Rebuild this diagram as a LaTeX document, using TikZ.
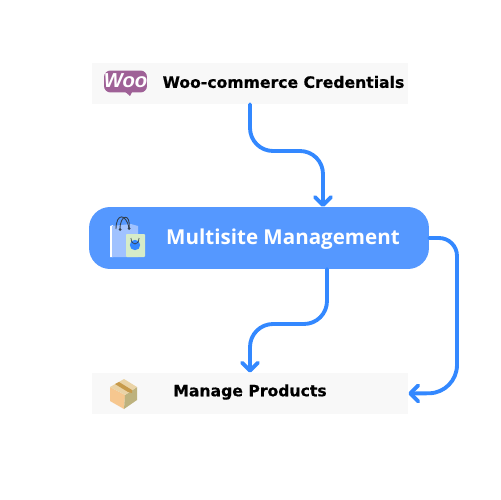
\documentclass[tikz,border=0pt]{standalone}
\usepackage{fontspec}
\setmainfont{Liberation Sans}
\newfontfamily\titlefont[FakeBold=0.6]{DejaVu Sans Bold}
\newfontfamily\sitefont{Open Sans}
\usetikzlibrary{arrows.meta}
\definecolor{mainblue}{HTML}{5598FF}
\definecolor{linkblue}{HTML}{3388FF}
\definecolor{lightbox}{HTML}{F8F8F8}
\definecolor{woopurple}{HTML}{9F6197}
\definecolor{bagblue}{HTML}{A0C2FF}
\definecolor{baggreen}{HTML}{D6ECC8}
\definecolor{bagdark}{HTML}{33404F}
\definecolor{boxleft}{HTML}{F6C78F}
\definecolor{boxright}{HTML}{BDB27E}
\definecolor{boxtop}{HTML}{EAD3A6}
\definecolor{boxtape}{HTML}{C79A4B}
\begin{document}
\begin{tikzpicture}[x=0.02cm, y=-0.02cm,
		>={Straight Barb[length=1.6mm, width=3.2mm, round]},
		greybox/.style={fill=lightbox, minimum width=6.32cm, minimum height=0.82cm, inner sep=0pt},
		link/.style={->, linkblue, line width=2.2pt, line cap=round},
		boxtext/.style={font=\titlefont\fontsize{8.9}{11}\selectfont, inner sep=0pt}]
	\useasboundingbox (0, 0) rectangle (500, 500);
	\node [greybox] (woobox) at (250, 83.5) {};
	\node [greybox] (productbox) at (250, 393.5) {};
	\node [fill=mainblue, rounded corners=0.42cm, minimum width=6.8cm, minimum height=1.24cm, inner sep=0pt] (sitebox) at (259, 238) {};
	\node [boxtext] (wootext) at (283.5, 82) {Woo-commerce Credentials};
	\node [boxtext] (producttext) at (250, 392) {Manage Products};
	\node [white, inner sep=0pt, font=\sitefont\bfseries\fontsize{11.7}{14}\selectfont] (sitetext) at (283, 239) {Multisite Management};

	% woo logo
	\node [fill=woopurple, rounded corners=1.3mm, minimum width=0.86cm, minimum height=0.44cm, inner sep=0pt] (woologo) at (125.5, 81.5) {};
	\fill [woopurple] (123, 90) -- (133, 90) -- (130, 96) -- cycle;
	\node [white, inner sep=0pt, font=\bfseries\itshape\fontsize{11.5}{12}\selectfont] (wooname) at (125.5, 81) {Woo};

	% shopping bags
	\fill [white] (110, 226) -- (113, 225) -- (113, 257) -- (110, 257) -- cycle;
	\fill [bagblue] (112, 226) -- (131, 224) -- (138, 226) -- (138, 257) -- (112, 257) -- cycle;
	\draw [bagdark, line width=0.5pt] (116, 229) .. controls (116, 213) and (126, 213) .. (129, 228);
	\draw [bagdark, line width=0.5pt] (120, 229) .. controls (120, 214) and (131, 213) .. (129, 228);
	\fill [bagdark] (120, 229.5) circle (1.5) (129, 228.5) circle (1.5);
	\fill [baggreen, rounded corners=0.5pt] (126, 234) -- (145, 234) -- (145, 257) -- (126, 257) -- cycle;
	\fill [linkblue] (135, 245) circle (5.2);
	\draw [bagdark, line width=0.4pt] (131, 238) .. controls (131, 246) and (139, 246) .. (139, 238);

	% cardboard box
	\fill [boxleft] (110, 387) -- (125, 395) -- (124, 409) -- (110, 401) -- cycle;
	\fill [boxright] (125, 395) -- (137, 387) -- (137, 400) -- (124, 409) -- cycle;
	\fill [boxtop] (110, 387) -- (124, 379) -- (137, 387) -- (125, 395) -- cycle;
	\fill [boxtape] (115, 384) -- (119, 382) -- (132, 390) -- (132, 393) -- (128, 392) -- cycle;

	\coordinate (siteleft) at (327, 269);
	\coordinate (siteright) at (323, 207);
	\draw [link, rounded corners=0.46cm] (woobox.south) -- (250, 151) -- (323, 151) -- (siteright);
	\draw [link, rounded corners=0.46cm] (siteleft) -- (327, 324) -- (250, 324) -- (productbox.north);
	\draw [link] (sitebox.east) [rounded corners=0.36cm] -- (457, 238) [rounded corners=0.56cm] -- (457, 393) -- (productbox.east);
\end{tikzpicture}
\end{document}
